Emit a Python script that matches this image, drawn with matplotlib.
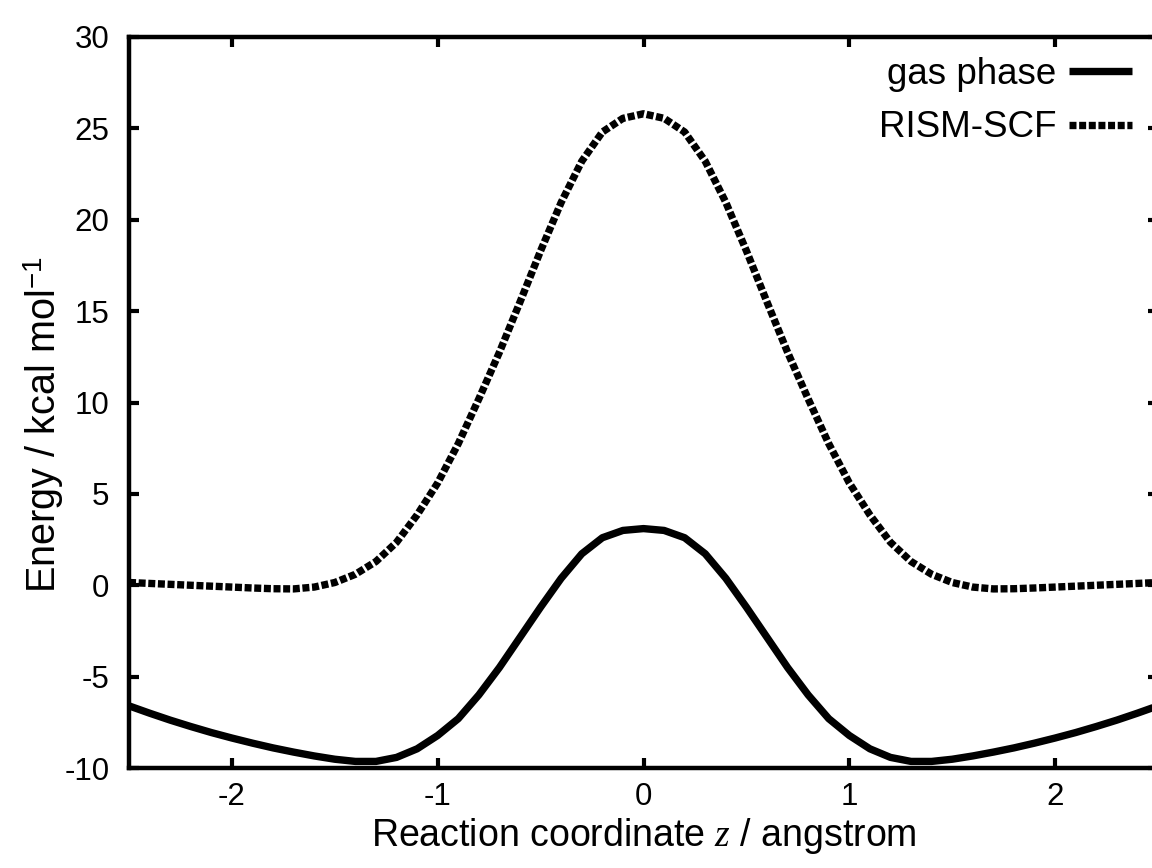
import matplotlib
matplotlib.use("Agg")
import matplotlib.pyplot as plt

plt.rcParams["font.family"] = ["Liberation Sans", "DejaVu Sans"]
plt.rcParams["mathtext.fontset"] = "custom"
plt.rcParams["mathtext.rm"] = "Liberation Sans"
plt.rcParams["mathtext.it"] = "Liberation Serif:italic"

# Reaction coordinate z (angstrom)
z = [-2.5, -2.4, -2.3, -2.2, -2.1, -2.0, -1.9, -1.8, -1.7, -1.6, -1.5, -1.4, -1.3,
     -1.2, -1.1, -1.0, -0.9, -0.8, -0.7, -0.6, -0.5, -0.4, -0.3, -0.2, -0.1, 0.0,
     0.1, 0.2, 0.3, 0.4, 0.5, 0.6, 0.7, 0.8, 0.9, 1.0, 1.1, 1.2, 1.3, 1.4, 1.5,
     1.6, 1.7, 1.8, 1.9, 2.0, 2.1, 2.2, 2.3, 2.4, 2.5]

# Energy profiles (kcal/mol)
gas_phase = [-6.6, -7.0, -7.38, -7.73, -8.06, -8.36, -8.64, -8.9, -9.13, -9.34,
             -9.52, -9.64, -9.64, -9.42, -8.95, -8.22, -7.3, -6.0, -4.5, -2.85,
             -1.2, 0.38, 1.72, 2.6, 3.0, 3.1,
             3.0, 2.6, 1.72, 0.38, -1.2, -2.85, -4.5, -6.0, -7.3, -8.22, -8.95,
             -9.42, -9.64, -9.64, -9.52, -9.34, -9.13, -8.9, -8.64, -8.36, -8.06,
             -7.73, -7.38, -7.0, -6.6]

rism_scf = [0.15, 0.1, 0.05, 0.0, -0.05, -0.1, -0.15, -0.19, -0.2, -0.1, 0.15, 0.6,
            1.3, 2.35, 3.85, 5.6, 7.75, 10.2, 12.75, 15.5, 18.3, 20.95, 23.2, 24.8,
            25.55, 25.8,
            25.55, 24.8, 23.2, 20.95, 18.3, 15.5, 12.75, 10.2, 7.75, 5.6, 3.85,
            2.35, 1.3, 0.6, 0.15, -0.1, -0.2, -0.19, -0.15, -0.1, -0.05, 0.0,
            0.05, 0.1, 0.15]

xticks = [-2, -1, 0, 1, 2]
yticks = [-10, -5, 0, 5, 10, 15, 20, 25, 30]

W, H = 1152, 868
fig = plt.figure(figsize=(W / 100, H / 100), dpi=100)
ax = fig.add_axes([129 / W, 1 - 768 / H, (1158 - 129) / W, (768 - 37) / H])

ax.plot(z, gas_phase, color="black", lw=5.3, solid_capstyle="butt",
        solid_joinstyle="round", label="gas phase")
ax.plot(z, rism_scf, color="black", lw=5.3, dashes=(0.95, 0.36),
        dash_capstyle="butt", dash_joinstyle="round", label="RISM-SCF")

ax.set_xlim(-2.5, 2.5)
ax.set_ylim(-10, 30)
ax.set_xticks(xticks)
ax.set_yticks(yticks)
ax.set_xticklabels([f"{t:d}" for t in xticks])
ax.set_yticklabels([f"{t:d}" for t in yticks])

for s in ax.spines.values():
    s.set_linewidth(3.2)
ax.tick_params(direction="in", length=7, width=3, labelsize=22.5,
               top=True, right=True)
ax.tick_params(axis="x", pad=10)
ax.tick_params(axis="y", pad=14)

ax.set_xlabel(r"Reaction coordinate $z$ / angstrom", fontsize=27, labelpad=3)
ax.set_ylabel(r"Energy / kcal mol$^{\mathrm{-1}}$", fontsize=28.5)
ax.yaxis.set_label_coords(66 / W, 1 - 425 / H, transform=fig.transFigure)

leg = ax.legend(loc="upper right", bbox_to_anchor=(1132 / W, 1 - 57 / H),
                bbox_transform=fig.transFigure, frameon=False, markerfirst=False,
                fontsize=26.5, handlelength=1.7, handletextpad=0.35,
                labelspacing=0.5, borderpad=0, borderaxespad=0)

fig.savefig("out.png", dpi=100)
